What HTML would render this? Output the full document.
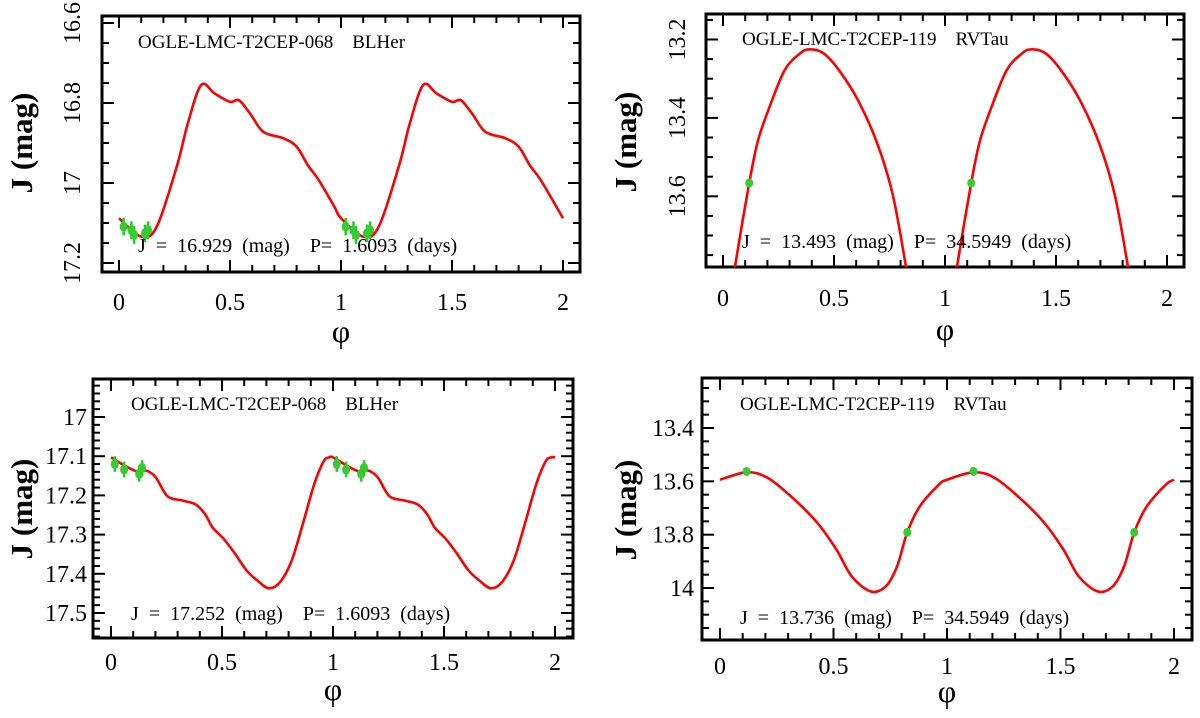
<!DOCTYPE html>
<html><head><meta charset="utf-8"><style>
html,body{margin:0;padding:0;background:#fff;}
text{font-family:"Liberation Serif","DejaVu Serif",serif;fill:#000;white-space:pre;}
</style></head><body>
<svg id="fig" width="1200" height="713" viewBox="0 0 1200 713" xmlns="http://www.w3.org/2000/svg"></svg>
<script>
// ---- data (one cycle each, phase / J mag) ----
const tlPhase=[0,0.1,0.17,0.26,0.31,0.37,0.43,0.50,0.54,0.59,0.65,0.74,0.80,0.85,0.90,0.97,1.0];
const tlMag=[17.088,17.134,17.109,16.959,16.851,16.755,16.776,16.797,16.793,16.826,16.872,16.888,16.909,16.955,16.993,17.059,17.088];
const tlObsPhase=[0.021,0.056,0.068,0.117,0.131];
const tlObsMag=[17.109,17.118,17.13,17.126,17.118];

const trPhase=[0.03,0.052,0.118,0.157,0.209,0.278,0.348,0.391,0.452,0.522,0.609,0.696,0.765,0.826,0.85];
const trMag=[13.88,13.786,13.566,13.459,13.373,13.278,13.235,13.225,13.235,13.278,13.356,13.467,13.597,13.786,13.88];
const trObsPhase=[0.118];
const trObsMag=[13.566];

const blPhase=[0,0.068,0.119,0.161,0.203,0.254,0.322,0.381,0.424,0.458,0.508,0.559,0.61,0.661,0.712,0.763,0.814,0.864,0.915,0.958,0.983,1.0];
const blMag=[17.103,17.126,17.139,17.137,17.155,17.202,17.213,17.223,17.248,17.282,17.311,17.349,17.391,17.418,17.437,17.42,17.366,17.273,17.172,17.113,17.103,17.103];
const blObsPhase=[0.017,0.059,0.127,0.14];
const blObsMag=[17.12,17.134,17.145,17.13];

const brPhase=[0,0.117,0.212,0.329,0.429,0.513,0.58,0.663,0.73,0.78,0.825,0.88,0.964,1.0];
const brMag=[13.594,13.566,13.588,13.669,13.756,13.856,13.956,14.0125,13.994,13.919,13.791,13.694,13.6125,13.594];
const brObsPhase=[0.117,0.825];
const brObsMag=[13.563,13.791];

const xTickLabels=["0","0.5","1","1.5","2"];
const xTickValues=[0,0.5,1,1.5,2];
const tlYTicks=[16.6,16.8,17,17.2];
const trYTicks=[13.2,13.4,13.6];
const blYTicks=[17,17.1,17.2,17.3,17.4,17.5];
const brYTicks=[13.4,13.6,13.8,14];

const NS="http://www.w3.org/2000/svg";
const FONT='"Liberation Serif", "DejaVu Serif", serif';
const svg=document.getElementById('fig');
function mk(tag,attrs,parent){const e=document.createElementNS(NS,tag);for(const k in attrs)e.setAttribute(k,attrs[k]);if(tag==='text')e.setAttribute('font-family',FONT);(parent||svg).appendChild(e);return e;}

function panel(cfg){
  const g=mk('g',{});
  
  
  const L=cfg.L,R=cfg.R,T=cfg.T,B=cfg.B;
  const xs=p=>cfg.x0+(p)*cfg.xu;
  const ys=m=>cfg.ym0+(m-cfg.m0)*cfg.yu;
  const cid='clip-'+cfg.name;
  const cp=mk('clipPath',{id:cid},g);mk('rect',{x:L,y:T,width:R-L,height:B-T},cp);
  const tk=mk('g',{stroke:'#000','stroke-width':2},g);
  
  
  for(let i=0;i<=20;i++){const x=xs(i*0.1);const big=i%5===0;const l=big?12:7;
    mk('line',{x1:x,y1:B,x2:x,y2:B-l},tk);mk('line',{x1:x,y1:T,x2:x,y2:T+l},tk);}
  const mStart=Math.ceil(cfg.mTop/cfg.minor-1e-6)*cfg.minor;
  for(let m=mStart;m<=cfg.mBot+1e-9;m+=cfg.minor){const y=ys(m);if(y<T+1||y>B-1)continue;
    const r=Math.round(m/cfg.major);const big=Math.abs(m-r*cfg.major)<1e-6;const l=big?12:7;
    mk('line',{x1:L,y1:y,x2:L+l,y2:y},tk);mk('line',{x1:R,y1:y,x2:R-l,y2:y},tk);}
  const fr=mk('rect',{x:L,y:T,width:R-L,height:B-T,fill:'none',stroke:'#000','stroke-width':3},g);
  
  
  xTickValues.forEach((v,i)=>{const t=mk('text',{x:xs(v),y:cfg.xLabY,'font-size':24,'text-anchor':'middle'},g);t.textContent=xTickLabels[i];
    
    });
  cfg.yTicks.forEach(v=>{let t;
    if(cfg.rotY){t=mk('text',{x:0,y:0,'font-size':24,'text-anchor':'middle',transform:`translate(${cfg.yLabX},${ys(v)}) rotate(-90)`},g);}
    else{t=mk('text',{x:cfg.yLabX,y:ys(v)+8,'font-size':24,'text-anchor':'end'},g);}
    t.textContent=String(v);
    
    });
  const yt=mk('text',{x:0,y:0,'font-size':31,'font-weight':'bold','text-anchor':'middle',transform:`translate(${cfg.yTitX},${cfg.yTitY}) rotate(-90)`},g);
  yt.textContent='J (mag)';
  
  
  const xt=mk('text',{x:(L+R)/2,y:cfg.phiY,'font-size':32,'text-anchor':'middle'},g);
  xt.textContent='φ';
  
  
  const pts=[];
  for(let c=0;c<2;c++)cfg.ph.forEach((p,i)=>{if(c===1&&cfg.periodic&&i===0)return;pts.push([xs(p+c),ys(cfg.mg[i])]);});
  function path(P){let d=`M${P[0][0]},${P[0][1]}`;for(let i=0;i<P.length-1;i++){const p0=P[Math.max(0,i-1)],p1=P[i],p2=P[i+1],p3=P[Math.min(P.length-1,i+2)];
    d+=` C${p1[0]+(p2[0]-p0[0])/6},${p1[1]+(p2[1]-p0[1])/6} ${p2[0]-(p3[0]-p1[0])/6},${p2[1]-(p3[1]-p1[1])/6} ${p2[0]},${p2[1]}`;}return d;}
  const cg=mk('g',{'clip-path':`url(#${cid})`},g);
  if(cfg.periodic){const c=mk('path',{d:path(pts),fill:'none',stroke:'#ff0000','stroke-width':2.6},cg);
    
    }
  else{const n=cfg.ph.length;[pts.slice(0,n),pts.slice(n)].forEach(seg=>{const c=mk('path',{d:path(seg),fill:'none',stroke:'#ff0000','stroke-width':2.6},cg);
    
    });}
  for(let c=0;c<2;c++)cfg.op.forEach((p,i)=>{const x=xs(p+c),y=ys(cfg.om[i]);
    if(cfg.err){const e=mk('line',{x1:x,y1:ys(cfg.om[i]-cfg.err),x2:x,y2:ys(cfg.om[i]+cfg.err),stroke:'#22cc22','stroke-width':2.5},g);
      
      }
    const d=mk('ellipse',{cx:x,cy:y,rx:4,ry:cfg.err?5:4.5,fill:'#33cc33'},g);
    
    });
  const t1=mk('text',{x:cfg.txX,y:cfg.t1Y,'font-size':19},g);
  t1.textContent=cfg.title;
  
  
  const t2=mk('text',{x:cfg.txX,y:cfg.t2Y,'font-size':20},g);
  t2.textContent=cfg.info;
  
  
}

panel({name:'panel-top-left',L:102,R:580,T:16,B:272,x0:119,xu:222,m0:16.6,ym0:23,yu:400,mTop:16.58,mBot:17.23,minor:0.05,major:0.2,
  yTicks:tlYTicks,rotY:true,yLabX:80,xLabY:310,yTitX:32,yTitY:143,phiY:342,ph:tlPhase,mg:tlMag,op:tlObsPhase,om:tlObsMag,err:0.022,periodic:true,
  txX:138,t1Y:48,t2Y:252,title:'OGLE-LMC-T2CEP-068    BLHer',info:'J  =  16.929  (mag)    P=  1.6093  (days)'});
panel({name:'panel-top-right',L:706,R:1184,T:14,B:267,x0:723,xu:222,m0:13.2,ym0:39.5,yu:392,mTop:13.13,mBot:13.79,minor:0.05,major:0.2,
  yTicks:trYTicks,rotY:true,yLabX:685,xLabY:306,yTitX:636,yTitY:142,phiY:340,ph:trPhase,mg:trMag,op:trObsPhase,om:trObsMag,err:0,periodic:false,
  txX:742,t1Y:45,t2Y:248,title:'OGLE-LMC-T2CEP-119    RVTau',info:'J  =  13.493  (mag)    P=  34.5949  (days)'});
panel({name:'panel-bottom-left',L:93,R:573,T:379,B:638,x0:111,xu:222,m0:17,ym0:417,yu:392,mTop:16.90,mBot:17.57,minor:0.02,major:0.1,
  yTicks:blYTicks,rotY:false,yLabX:87,xLabY:670,yTitX:32,yTitY:509,phiY:700,ph:blPhase,mg:blMag,op:blObsPhase,om:blObsMag,err:0.02,periodic:true,
  txX:131,t1Y:410,t2Y:620,title:'OGLE-LMC-T2CEP-068    BLHer',info:'J  =  17.252  (mag)    P=  1.6093  (days)'});
panel({name:'panel-bottom-right',L:702,R:1192,T:378,B:640,x0:720,xu:227,m0:13.4,ym0:428,yu:266.7,mTop:13.22,mBot:14.2,minor:0.05,major:0.2,
  yTicks:brYTicks,rotY:false,yLabX:694,xLabY:674,yTitX:636,yTitY:510,phiY:702,ph:brPhase,mg:brMag,op:brObsPhase,om:brObsMag,err:0,periodic:true,
  txX:740,t1Y:410,t2Y:624,title:'OGLE-LMC-T2CEP-119    RVTau',info:'J  =  13.736  (mag)    P=  34.5949  (days)'});
</script>
</body></html>
